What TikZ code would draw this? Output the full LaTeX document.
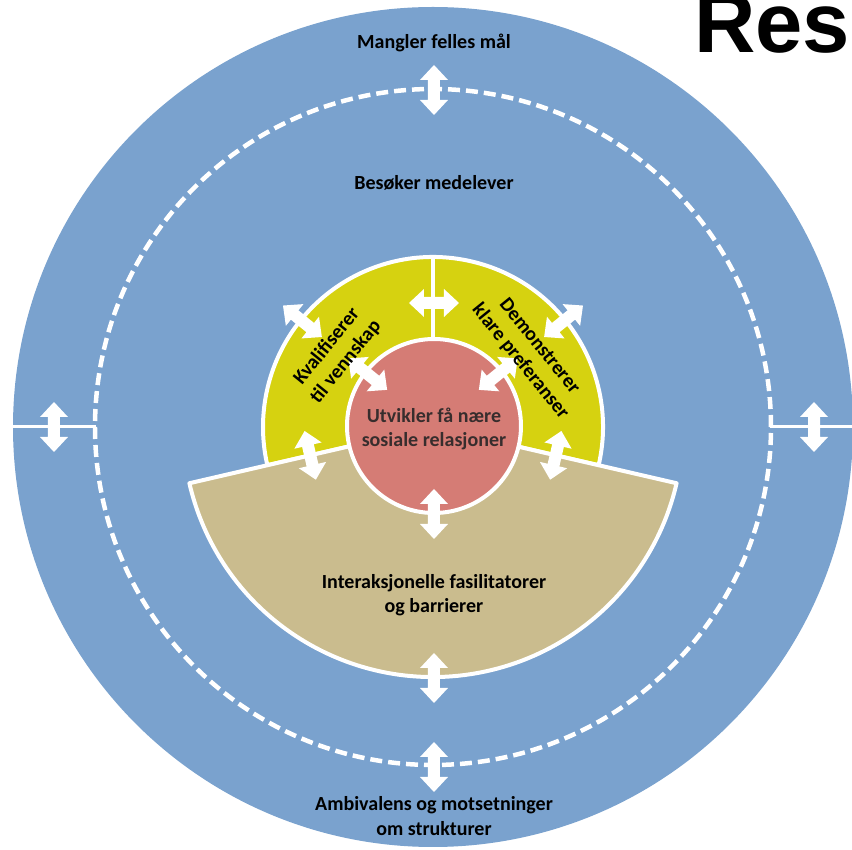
\documentclass[tikz,border=0pt]{standalone}
\usepackage{fontspec}
\setmainfont{Carlito}
\newfontfamily\resfont{Liberation Sans}
\definecolor{ringblue}{RGB}{122,162,206}
\definecolor{coreyellow}{RGB}{214,210,16}
\definecolor{tanfill}{RGB}{202,188,142}
\definecolor{pinkfill}{RGB}{213,124,117}
\definecolor{darktext}{RGB}{55,45,45}
\tikzset{
  dblarrow/.pic={\fill[white] (-25,0) -- (-10,14) -- (-10,6) -- (10,6) -- (10,14) -- (25,0)
     -- (10,-14) -- (10,-6) -- (-10,-6) -- (-10,-14) -- cycle;},
  lbl/.style={align=center, inner sep=0pt, font=\bfseries\fontsize{20}{24.5}\selectfont},
  whiteedge/.style={draw=white, line width=4, line join=round}
}
\begin{document}
\begin{tikzpicture}[x=1pt,y=1pt]
\useasboundingbox (-433,-423) rectangle (419,427);
% outer ring
\fill[ringblue] (0,0) circle (420);
\draw[white, line width=3] (180:337) -- (180:421);
\draw[white, line width=3] (0:337) -- (0:421);
\draw[white, line width=4.5, dash pattern=on 12 off 6] (0,0) circle (338);
% yellow sector
\filldraw[fill=coreyellow, whiteedge] (0,0) -- (-13:170) arc[start angle=-13, end angle=193, radius=170] -- cycle;
\draw[white, line width=4] (90:80) -- (90:170);
% tan sector
\filldraw[fill=tanfill, whiteedge] (0,0) -- (193:250) arc[start angle=193, end angle=347, radius=250] -- cycle;
% pink core
\filldraw[fill=pinkfill, whiteedge] (1,1) circle (87);
% arrows
\pic[rotate=90] at (1,337) {dblarrow};
\pic[rotate=90] at (-379,0) {dblarrow};
\pic[rotate=90] at (381,0) {dblarrow};
\pic[rotate=90] at (1,-251) {dblarrow};
\pic[rotate=90] at (1,-340) {dblarrow};
\pic at (1,124) {dblarrow};
\pic[rotate=141] at (141:168) {dblarrow};
\pic[rotate=39] at (39:168) {dblarrow};
\pic[rotate=141] at (141:84) {dblarrow};
\pic[rotate=39] at (39:84) {dblarrow};
\pic[rotate=103] at (193:126) {dblarrow};
\pic[rotate=77] at (347:126) {dblarrow};
\pic[rotate=90] at (1,-87) {dblarrow};
% texts
\node[lbl] (mangler) at (1,384) {Mangler felles mål};
\node[lbl] (besoker) at (1,244) {Besøker medelever};
\node[lbl, text=darktext] (utvikler) at (1,-2) {Utvikler få nære\\sosiale relasjoner};
\node[lbl] (interaksjon) at (1,-168) {Interaksjonelle fasilitatorer\\og barrierer};
\node[lbl] (ambivalens) at (1,-389) {Ambivalens og motsetninger\\om strukturer};
\node[lbl, rotate=51] (kvalifiserer) at (143:121) {Kvalifiserer\\til vennskap};
\node[lbl, rotate=-51] (demonstrerer) at (37:121) {Demonstrerer\\klare preferanser};
\node[anchor=base west, inner sep=0pt, font=\resfont\bfseries\fontsize{85}{85}\selectfont] (res) at (261,374) {Res};
\end{tikzpicture}
\end{document}
